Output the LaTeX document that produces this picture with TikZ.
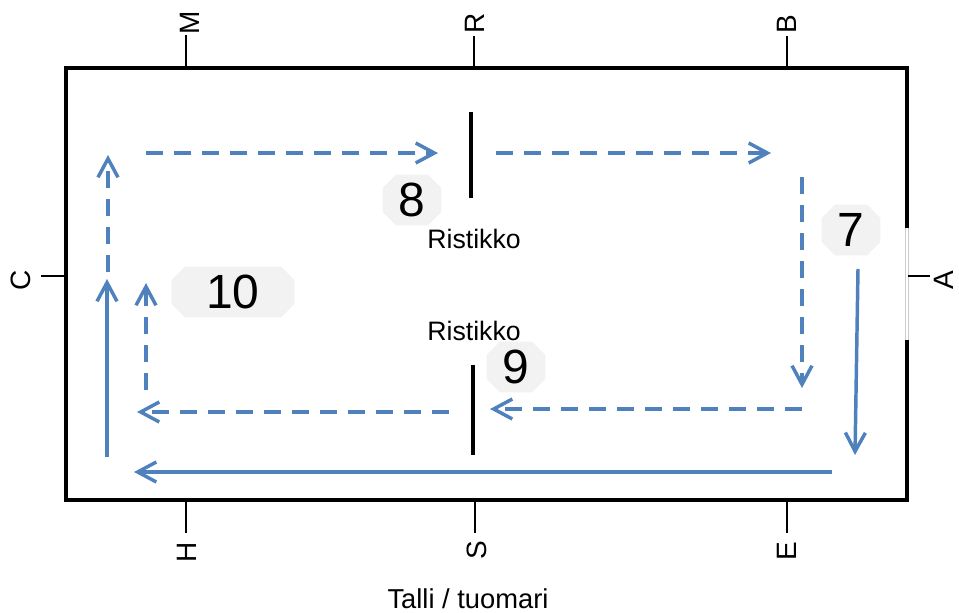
\documentclass[tikz,border=0pt]{standalone}
\usepackage{fontspec}
\setmainfont{Liberation Sans}
\usetikzlibrary{arrows.meta,shapes.misc}
\definecolor{trackblue}{RGB}{79,129,189}
\definecolor{badgegray}{RGB}{242,242,242}

\begin{document}
\begin{tikzpicture}[x=0.75pt,y=-0.75pt,>={Straight Barb[length=14pt,width=15pt]}]
    \tikzstyle{letter} = [rotate=90, inner sep=0pt, font=\fontsize{21}{21}\selectfont]
    \tikzstyle{badge} = [chamfered rectangle, chamfered rectangle sep=5pt, fill=badgegray, inner sep=0pt, minimum width=44pt, minimum height=38pt, font=\fontsize{36}{36}\selectfont]
    \tikzstyle{caption} = [inner sep=0pt, text depth=0pt, font=\fontsize{20}{20}\selectfont]
    \tikzstyle{tick} = [line width=1.2pt]
    \tikzstyle{pole} = [line width=2.8pt]
    \tikzstyle{track} = [->, trackblue, line width=2.6pt]
    \tikzstyle{dashtrack} = [track, dash pattern=on 12.5pt off 8.5pt]
    \useasboundingbox (0,0) rectangle (959,613);

    % Arena
    \draw[line width=2.5pt] (907,228) -- (907,68) -- (66,68) -- (66,500) -- (907,500) -- (907,340);
    \draw[gray!40, line width=0.6pt, double=white, double distance=1.3pt] (907,228) -- (907,340);

    % Letters
    \node[letter] (M) at (190,23) {M};
    \node[letter] (R) at (475,23) {R};
    \node[letter] (B) at (787,24) {B};
    \node[letter] (C) at (21,280) {C};
    \node[letter] (A) at (944,280) {A};
    \node[letter] (H) at (187,552) {H};
    \node[letter] (S) at (477,550) {S};
    \node[letter] (E) at (787,551) {E};
    \draw[tick] (186,68) -- (186,35);
    \draw[tick] (474,68) -- (474,36);
    \draw[tick] (787,68) -- (787,36);
    \draw[tick] (66,276) -- (41,276);
    \draw[tick] (908,276) -- (930,276);
    \draw[tick] (186,500) -- (186,533);
    \draw[tick] (475,500) -- (475,533);
    \draw[tick] (787,500) -- (787,533);

    % Poles
    \draw[pole] (471,112) -- (471,198);
    \draw[pole] (473,365) -- (473,455);
    \node[caption] (rist1) at (474,239) {Ristikko};
    \node[caption] (rist2) at (474,331) {Ristikko};
    \node[caption, anchor=base, font=\fontsize{20.5}{20.5}\selectfont] (judge) at (468,608) {Talli / tuomari};

    % Numbers
    \node[badge] (n8) at (412,200) {8};
    \node[badge, minimum width=92pt] (n10) at (233,292) {10};
    \node[badge] (n7) at (851,230) {7};
    \node[badge] (n9) at (516,367) {9};

    % Track points
    \coordinate (so1) at (858,269);
    \coordinate (so2) at (855,455);
    \coordinate (so3) at (832,472);
    \coordinate (so4) at (134,472);
    \coordinate (so5) at (107,457);
    \coordinate (so6) at (107,279);
    \coordinate (d1) at (108,272);
    \coordinate (d2) at (108,155);
    \coordinate (d3) at (146,153);
    \coordinate (d4) at (438,153);
    \coordinate (d5) at (496,153);
    \coordinate (d6) at (771,153);
    \coordinate (d7) at (802,177);
    \coordinate (d8) at (802,388);
    \coordinate (d9) at (802,409);
    \coordinate (d10) at (490,409);
    \coordinate (d11) at (449,412);
    \coordinate (d12) at (137,412);
    \coordinate (d13) at (146,390);
    \coordinate (d14) at (146,283);

    % Tracks
    \draw[track] (so1) -- (so2);
    \draw[track] (so3) -- (so4);
    \draw[track] (so5) -- (so6);
    \draw[dashtrack] (d1) -- (d2);
    \draw[dashtrack] (d3) -- (d4);
    \draw[dashtrack] (d5) -- (d6);
    \draw[dashtrack] (d7) -- (d8);
    \draw[dashtrack] (d9) -- (d10);
    \draw[dashtrack] (d11) -- (d12);
    \draw[dashtrack] (d13) -- (d14);
\end{tikzpicture}
\end{document}
